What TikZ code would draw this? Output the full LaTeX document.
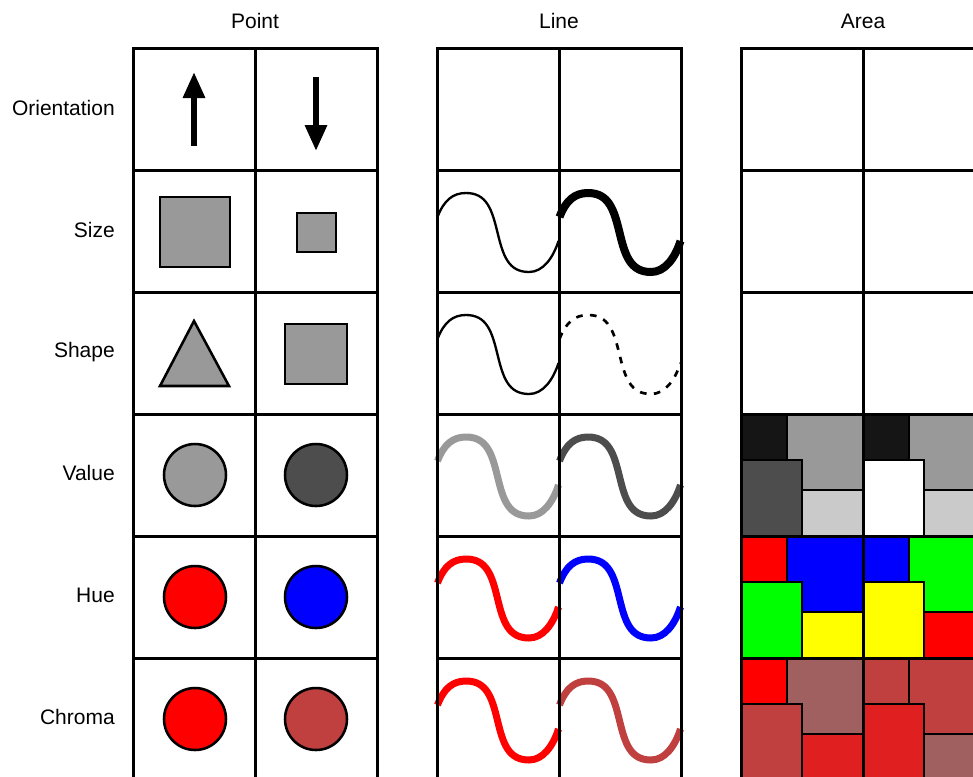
\documentclass[tikz,border=0pt]{standalone}
\usepackage{fontspec}
\setmainfont{Liberation Sans}
\usetikzlibrary{arrows.meta}
\definecolor{ink}{HTML}{151515}
\definecolor{midg}{HTML}{999999}
\definecolor{drkg}{HTML}{4D4D4D}
\definecolor{pale}{HTML}{CACACA}
\definecolor{pure}{HTML}{FF0000}
\definecolor{blu}{HTML}{0000FF}
\definecolor{grn}{HTML}{00FF00}
\definecolor{yel}{HTML}{FFFF00}
\definecolor{dull}{HTML}{A06060}
\definecolor{half}{HTML}{C04040}
\definecolor{hot}{HTML}{E02020}
\newcommand{\drawwave}[3]{\draw[#1,shift={(#2,#3)}] (0.5,47) .. controls (7,30) and (16,23) .. (29,23) .. controls (50,23) and (55,40) .. (60.5,62.5) .. controls (66,85) and (71,102) .. (92,102) .. controls (106,102) and (116,88) .. (121.5,71);}
\newcommand{\tiles}[6]{%
  \begin{scope}[shift={(#1,#2)}]
    \filldraw[tile,fill=#3] (0,0) rectangle (46,46);
    \filldraw[tile,fill=#4] (46,0) rectangle (122,76);
    \filldraw[tile,fill=#5] (0,46) rectangle (61,122);
    \filldraw[tile,fill=#6] (61,76) rectangle (122,122);
  \end{scope}}
\tikzset{
  cell/.style={draw=black,line width=2.25pt},
  glyph/.style={draw=black,line width=1.9pt},
  tile/.style={draw=black,line width=2pt},
  wave/.style={line cap=butt,line join=round},
  lbl/.style={font=\fontsize{15.75}{18}\selectfont,anchor=east,inner sep=0pt},
  ttl/.style={font=\fontsize{15.75}{18}\selectfont,inner sep=0pt},
  arr/.style={line width=4.5pt,-{Triangle[length=19.5pt,width=15.75pt]}},
}
\begin{document}
\begin{tikzpicture}[x=0.75pt,y=-0.75pt]
\useasboundingbox (0,0) rectangle (973,776);
\clip (0,0) rectangle (973,776);
\fill[white] (0,0) rectangle (973,776);

% column and row titles
\node[ttl] (tpoint) at (255,21) {Point};
\node[ttl] (tline) at (559,21) {Line};
\node[ttl] (tarea) at (863,21) {Area};
\node[lbl] (lorient) at (115,108) {Orientation};
\node[lbl] (lsize) at (115,230) {Size};
\node[lbl] (lshape) at (115,352) {Shape};
\node[lbl] (lvalue) at (115,473) {Value};
\node[lbl] (lhue) at (115,595) {Hue};
\node[lbl] (lchroma) at (115,717) {Chroma};

% point
\draw[arr] (194,146) -- (194,72);
\draw[arr] (316,77) -- (316,151);
\filldraw[glyph,fill=midg] (160,197) rectangle (230,267);
\filldraw[glyph,fill=midg] (297,213) rectangle (336,252);
\filldraw[glyph,fill=midg] (194,321) -- (160,386) -- (229,386) -- cycle;
\filldraw[glyph,fill=midg] (285,324) rectangle (347,384);
\filldraw[glyph,fill=midg] (195,475) circle[radius=23.25pt];
\filldraw[glyph,fill=drkg] (316,475) circle[radius=23.25pt];
\filldraw[glyph,fill=pure] (195,597) circle[radius=23.25pt];
\filldraw[glyph,fill=blu] (316,597) circle[radius=23.25pt];
\filldraw[glyph,fill=pure] (195,719) circle[radius=23.25pt];
\filldraw[glyph,fill=half] (316,719) circle[radius=23.25pt];

% line
\drawwave{wave,line width=1.75pt}{437}{170}
\drawwave{wave,line width=6pt}{559}{170}
\drawwave{wave,line width=1.75pt}{437}{292}
\drawwave{wave,line width=2pt,dash pattern=on 5pt off 5.5pt}{559}{292}
\drawwave{wave,line width=5.25pt,midg}{437}{414}
\drawwave{wave,line width=5.25pt,drkg}{559}{414}
\drawwave{wave,line width=5.25pt,pure}{437}{536}
\drawwave{wave,line width=5.25pt,blu}{559}{536}
\drawwave{wave,line width=5.25pt,pure}{437}{658}
\drawwave{wave,line width=5.25pt,half}{559}{658}

% area
\tiles{741}{414}{ink}{midg}{drkg}{pale}
\tiles{863}{414}{ink}{midg}{white}{pale}
\tiles{741}{536}{pure}{blu}{grn}{yel}
\tiles{863}{536}{blu}{grn}{yel}{pure}
\tiles{741}{658}{pure}{dull}{half}{hot}
\tiles{863}{658}{half}{half}{hot}{dull}

% grid
\foreach \cx in {133,255,437,559,741,863}
  \foreach \cy in {48,170,292,414,536,658}
    \draw[cell] (\cx,\cy) rectangle ++(122,122);
\end{tikzpicture}
\end{document}
